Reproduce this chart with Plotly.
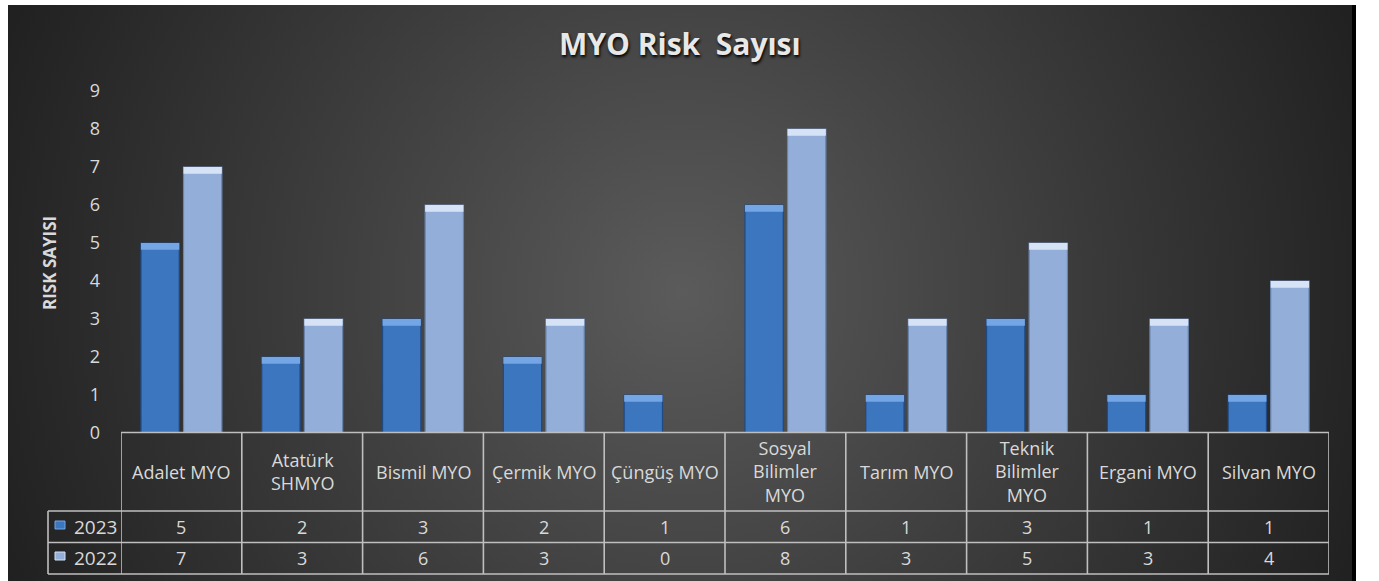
import base64
import plotly.graph_objects as go

# ---------------- data ----------------
categories = ["Adalet MYO", "Atatürk SHMYO", "Bismil MYO", "Çermik MYO", "Çüngüş MYO",
              "Sosyal Bilimler MYO", "Tarım MYO", "Teknik Bilimler MYO", "Ergani MYO", "Silvan MYO"]
category_labels = ["Adalet MYO", "Atatürk<br>SHMYO", "Bismil MYO", "Çermik MYO", "Çüngüş MYO",
                   "Sosyal<br>Bilimler<br>MYO", "Tarım MYO", "Teknik<br>Bilimler<br>MYO", "Ergani MYO", "Silvan MYO"]
series_names = ["2023", "2022"]
values_2023 = [5, 2, 3, 2, 1, 6, 1, 3, 1, 1]
values_2022 = [7, 3, 6, 3, 0, 8, 3, 5, 3, 4]
y_ticks = [0, 1, 2, 3, 4, 5, 6, 7, 8, 9]
title_text = "MYO Risk\u00a0 Sayısı"
y_title = "RISK SAYISI"

# ---------------- geometry helpers (pixels -> paper) ----------------
W, H = 1379, 581
L, R, T, B = 121, 1329, 91, 433


def xp(p):
    return (p - L) / (R - L)


def yp(p):
    return (B - p) / (B - T)


FONT = "Open Sans"
TXT = "#d9d9d9"
LINE = "#bfbfbf"
C23, C23_EDGE, C23_TOP = "#3b76be", "#1f4a85", "#74a6e6"
C22, C22_EDGE, C22_TOP = "#93aed8", "#6a84ad", "#d6e3f6"
BEVEL = 0.18

fig = go.Figure()
series = [(values_2023, C23, C23_EDGE, C23_TOP, "a"), (values_2022, C22, C22_EDGE, C22_TOP, "b")]
for (vals, col, edge, top, grp), name in zip(series, series_names):
    fig.add_trace(go.Bar(x=categories, y=vals, name=name, offsetgroup=grp,
                         marker=dict(color=col, line=dict(color=edge, width=1.2)),
                         showlegend=False, hoverinfo="x+y"))
    fig.add_trace(go.Bar(x=categories, y=[BEVEL if v > 0 else 0 for v in vals],
                         base=[v - BEVEL if v > 0 else 0 for v in vals], offsetgroup=grp,
                         marker=dict(color=top, line=dict(width=0)),
                         showlegend=False, hoverinfo="skip"))

# background radial gradient as an svg image
bx0, by0, bx1, by1 = 8, 5, 1352, 581
bw, bh = bx1 - bx0, by1 - by0
svg = (f"<svg xmlns='http://www.w3.org/2000/svg' width='{bw}' height='{bh}' viewBox='0 0 {bw} {bh}' "
       f"preserveAspectRatio='none'><defs><radialGradient id='g' cx='{682 - bx0}' cy='{292 - by0}' r='760' "
       f"gradientUnits='userSpaceOnUse'><stop offset='0' stop-color='#5b5b5b'/>"
       f"<stop offset='0.55' stop-color='#393939'/><stop offset='1' stop-color='#1e1e1e'/></radialGradient></defs>"
       f"<rect width='{bw}' height='{bh}' fill='url(#g)'/></svg>")
src = "data:image/svg+xml;base64," + base64.b64encode(svg.encode()).decode()

shapes = []
# black edge at right
shapes.append(dict(type="rect", xref="paper", yref="paper", x0=xp(1352), x1=xp(1356), y0=yp(by0), y1=yp(581),
                   fillcolor="black", line=dict(width=0), layer="below"))
# table lines
lw = 1.6
shapes.append(dict(type="line", xref="paper", yref="paper", x0=0, x1=1, y0=yp(432.5), y1=yp(432.5),
                   line=dict(color=LINE, width=lw)))
for ypix in (511, 542.5, 574):
    shapes.append(dict(type="line", xref="paper", yref="paper", x0=xp(48), x1=1, y0=yp(ypix), y1=yp(ypix),
                       line=dict(color=LINE, width=lw)))
shapes.append(dict(type="line", xref="paper", yref="paper", x0=xp(48), x1=xp(48), y0=yp(511), y1=yp(574),
                   line=dict(color=LINE, width=lw)))
for i in range(len(categories) + 1):
    shapes.append(dict(type="line", xref="x", yref="paper", x0=i - 0.5, x1=i - 0.5, y0=yp(432.5), y1=yp(574),
                       line=dict(color=LINE, width=lw)))
# legend keys in the table
for ypix, col, edge in ((525, C23, C23_TOP), (556, C22, C22_TOP)):
    shapes.append(dict(type="rect", xref="paper", yref="paper", x0=xp(55), x1=xp(65), y0=yp(ypix + 4),
                       y1=yp(ypix - 4), fillcolor=col, line=dict(color=edge, width=1)))

annotations = []
annotations.append(dict(text=f"<b>{title_text}</b>", xref="paper", yref="paper", x=xp(680), y=yp(43),
                        showarrow=False, xanchor="center", yanchor="middle",
                        font=dict(family=FONT, size=30, color="#e8e8e8", shadow="1px 2px 3px #000")))
annotations.append(dict(text=f"<b>{y_title}</b>", xref="paper", yref="paper", x=xp(49), y=yp(263),
                        textangle=-90, showarrow=False, xanchor="center", yanchor="middle",
                        font=dict(family=FONT, size=17, color=TXT)))
for i, lab in enumerate(category_labels):
    annotations.append(dict(text=lab, xref="x", yref="paper", x=i, y=yp(471.5), showarrow=False,
                            xanchor="center", yanchor="middle", font=dict(family=FONT, size=18, color=TXT)))
for vals, ypix in ((values_2023, 527), (values_2022, 558)):
    for i, v in enumerate(vals):
        annotations.append(dict(text=str(v), xref="x", yref="paper", x=i, y=yp(ypix), showarrow=False,
                                xanchor="center", yanchor="middle", font=dict(family=FONT, size=18, color=TXT)))
for name, ypix in zip(series_names, (527, 558)):
    annotations.append(dict(text=name, xref="paper", yref="paper", x=xp(72), y=yp(ypix), showarrow=False,
                            xanchor="left", yanchor="middle", font=dict(family=FONT, size=19, color=TXT)))

fig.update_layout(
    width=W, height=H,
    margin=dict(l=L, r=W - R, t=T, b=H - B, pad=0),
    paper_bgcolor="white", plot_bgcolor="rgba(0,0,0,0)",
    barmode="group", bargap=0.295, bargroupgap=0.1,
    images=[dict(source=src, xref="paper", yref="paper", x=xp(bx0), y=yp(by0),
                 sizex=bw / (R - L), sizey=bh / (B - T), xanchor="left", yanchor="top",
                 sizing="stretch", layer="below")],
    shapes=shapes, annotations=annotations,
    xaxis=dict(range=[-0.5, len(categories) - 0.5], showticklabels=False, showgrid=False,
               zeroline=False, showline=False, fixedrange=True),
    yaxis=dict(range=[0, 9], tickvals=y_ticks, showgrid=False, zeroline=False, showline=False,
               tickfont=dict(family=FONT, size=18, color=TXT), ticklabelstandoff=20, fixedrange=True),
    showlegend=False,
)

fig.write_html("out.html", config={"displayModeBar": False},
               post_script="document.body.style.margin='0';document.body.style.overflow='hidden';")
